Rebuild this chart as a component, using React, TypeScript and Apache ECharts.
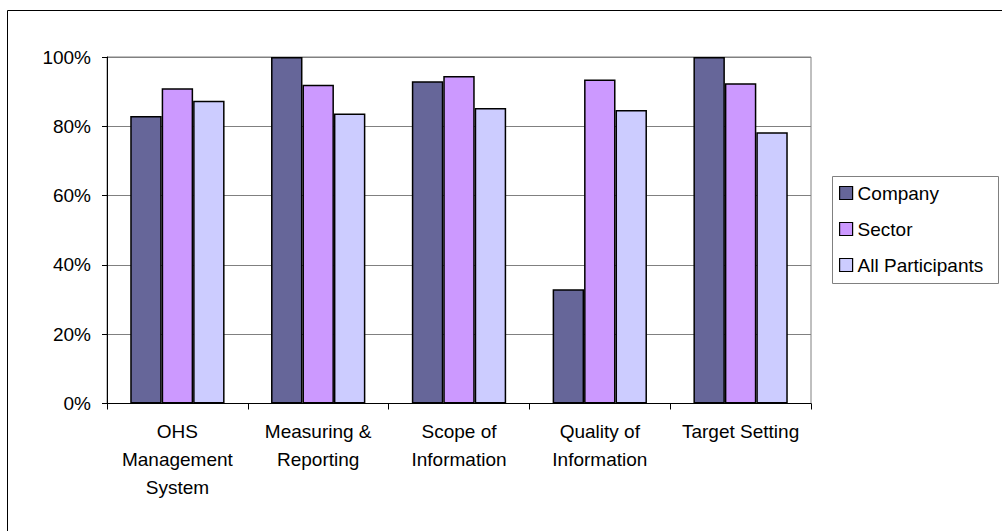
import React, { useEffect, useRef } from "react";
import * as echarts from "echarts";

const categories = [
  "OHS\nManagement\nSystem",
  "Measuring &\nReporting",
  "Scope of\nInformation",
  "Quality of\nInformation",
  "Target Setting",
];
const companyValues = [83, 100, 93, 33, 100];
const sectorValues = [91, 92, 94.5, 93.5, 92.4];
const allParticipantsValues = [87.4, 83.7, 85.3, 84.7, 78.3];
const yTicks = [0, 20, 40, 60, 80, 100];

const FONT = "Liberation Sans, Arial, sans-serif";

export default function App() {
  const ref = useRef<HTMLDivElement>(null);
  useEffect(() => {
    if (!ref.current) return;
    const chart = echarts.init(ref.current, undefined, { renderer: "svg" });
    const barStyle = (color: string) => ({
      color,
      borderColor: "#000",
      borderWidth: 1.5,
    });
    chart.setOption({
      animation: false,
      textStyle: { fontFamily: FONT },
      graphic: [
        {
          type: "rect",
          shape: { x: 7.5, y: 10.5, width: 1010, height: 540 },
          style: { fill: "none", stroke: "#000", lineWidth: 1 },
          silent: true,
        },
        {
          type: "rect",
          shape: { x: 832.5, y: 176.5, width: 166, height: 107 },
          style: { fill: "#fff", stroke: "#808080", lineWidth: 1 },
          silent: true,
          z: -1,
        },
      ],
      grid: {
        left: 107,
        top: 57,
        right: 191,
        bottom: 127.5,
        show: true,
        borderColor: "#808080",
        borderWidth: 1,
        backgroundColor: "transparent",
      },
      legend: {
        orient: "vertical",
        left: 839,
        top: 183,
        padding: 0,
        itemWidth: 13,
        itemHeight: 13,
        itemGap: 16,
        icon: "rect",
        itemStyle: { borderColor: "#000", borderWidth: 1.2 },
        textStyle: {
          fontFamily: FONT,
          fontSize: 19,
          color: "#000",
          lineHeight: 20,
        },
        data: ["Company", "Sector", "All Participants"],
      },
      xAxis: {
        type: "category",
        data: categories,
        axisLine: { lineStyle: { color: "#000", width: 1 } },
        axisTick: { show: true, length: 6, lineStyle: { color: "#000" } },
        axisLabel: {
          interval: 0,
          fontFamily: FONT,
          fontSize: 19,
          lineHeight: 28,
          margin: 14,
          color: "#000",
          align: "center",
        },
      },
      yAxis: {
        type: "value",
        min: yTicks[0],
        max: yTicks[yTicks.length - 1],
        interval: 20,
        axisLine: { show: true, lineStyle: { color: "#000", width: 1 } },
        axisTick: { show: true, length: 5, lineStyle: { color: "#000" } },
        splitLine: { show: true, lineStyle: { color: "#808080", width: 1 } },
        axisLabel: {
          formatter: "{value}%",
          fontFamily: FONT,
          fontSize: 19,
          color: "#000",
          margin: 16,
        },
      },
      series: [
        {
          name: "Company",
          type: "bar",
          data: companyValues,
          barGap: "0%",
          barCategoryGap: "33%",
          itemStyle: barStyle("#666699"),
        },
        {
          name: "Sector",
          type: "bar",
          data: sectorValues,
          barGap: "0%",
          barCategoryGap: "33%",
          itemStyle: barStyle("#CC99FF"),
        },
        {
          name: "All Participants",
          type: "bar",
          data: allParticipantsValues,
          barGap: "0%",
          barCategoryGap: "33%",
          itemStyle: barStyle("#CCCCFF"),
        },
      ],
    });
    return () => chart.dispose();
  }, []);
  return (
    <div
      ref={ref}
      style={{ position: "absolute", left: 0, top: 0, width: 1002, height: 531 }}
    />
  );
}
